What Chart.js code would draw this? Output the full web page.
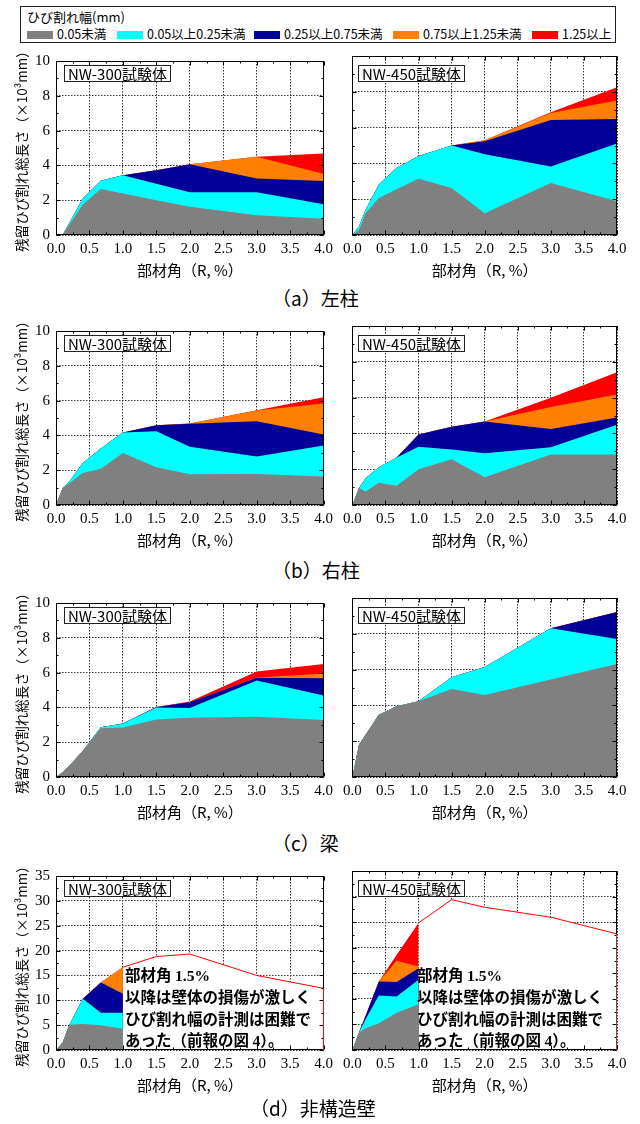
<!DOCTYPE html>
<html lang="ja">
<head>
<meta charset="utf-8">
<title>残留ひび割れ総長さ</title>
<script src="https://cdn.jsdelivr.net/npm/chart.js@4"></script>
<style>
  body { margin: 0; background: #fff; }
  #page { position: relative; width: 640px; height: 1124px; overflow: hidden; font-family: "Noto Sans CJK JP", sans-serif; color: #000; }
  canvas { position: absolute; }
  .legend { position: absolute; left: 20px; top: 6px; width: 594px; height: 35px; border: 1px solid #222; font-size: 12.5px; }
  .legend .ttl { position: absolute; left: 6px; top: 2px; line-height: 16px; font-size: 13px; }
  .legend .item { position: absolute; top: 19px; line-height: 16px; white-space: nowrap; }
  .legend .sw { display: inline-block; width: 26px; height: 8px; vertical-align: middle; margin-right: 4px; position: relative; top: -1px; }
  .spec { position: absolute; height: 15px; line-height: 15px; padding: 0 3px; border: 1.5px solid #222; background: #fff; font-size: 15px; white-space: nowrap; z-index: 2; }
  .cap { position: absolute; font-size: 19px; line-height: 24px; white-space: nowrap; }
  .note { position: absolute; font-size: 15.5px; line-height: 21.3px; font-weight: bold; white-space: nowrap; z-index: 2; }
  .serif { font-family: "Liberation Serif", serif; }
</style>
</head>
<body>
<div id="page"></div>
<script>
// 部材角 R (%) at each measured cycle
const rAngle = [0, 0.1, 0.2, 0.4, 0.67, 1.0, 1.5, 2.0, 3.0, 4.0];
const rAngleWall = [0, 0.1, 0.2, 0.4, 0.67, 1.0];
const rAngleWallTotal = [1.0, 1.5, 2.0, 3.0, 4.0];

// crack width classes (legend)
const crackClasses = ['0.05未満', '0.05以上0.25未満', '0.25以上0.75未満', '0.75以上1.25未満', '1.25以上'];
const classColors = ['#808080', '#00ffff', '#000099', '#ff8000', '#ff0000'];

// residual crack length per width class (x10^3 mm), one row per class
// (a) 左柱
const colLeft300 = [
  [0, 0, 0.6, 1.75, 2.65, 2.38, 2.0, 1.62, 1.13, 0.93],
  [0, 0, 0.1, 0.35, 0.47, 1.06, 0.95, 0.83, 1.32, 0.84],
  [0, 0, 0, 0, 0, 0, 0.77, 1.62, 0.80, 1.33],
  [0, 0, 0, 0, 0, 0, 0, 0, 1.25, 0.40],
  [0, 0, 0, 0, 0, 0, 0, 0, 0, 1.18]
];
const colLeft450 = [
  [0, 0.28, 1.22, 2.07, 2.55, 3.14, 2.63, 1.22, 2.91, 1.88],
  [0, 0.19, 0.19, 0.75, 1.21, 1.28, 2.37, 3.29, 0.91, 3.23],
  [0, 0, 0, 0, 0, 0, 0, 0.73, 2.61, 1.37],
  [0, 0, 0, 0, 0, 0, 0, 0.06, 0.39, 1.04],
  [0, 0, 0, 0, 0, 0, 0, 0, 0.04, 0.74]
];
// (b) 右柱
const colRight300 = [
  [0, 0.97, 1.25, 1.84, 2.08, 2.99, 2.17, 1.77, 1.78, 1.64],
  [0, 0, 0.1, 0.58, 1.17, 1.17, 2.07, 1.58, 1.01, 1.78],
  [0, 0, 0, 0, 0, 0, 0.35, 1.32, 2.02, 0.63],
  [0, 0, 0, 0, 0, 0, 0, 0.01, 0.62, 1.79],
  [0, 0, 0, 0, 0, 0, 0, 0, 0.02, 0.35]
];
const colRight450 = [
  [0, 0.95, 0.75, 1.25, 1.08, 2.0, 2.56, 1.55, 2.82, 2.82],
  [0, 0, 0.74, 0.86, 1.57, 1.26, 0.54, 1.34, 0.41, 1.66],
  [0, 0, 0, 0, 0, 0.68, 1.27, 1.77, 1.01, 0.41],
  [0, 0, 0, 0, 0, 0, 0, 0, 1.23, 1.29],
  [0, 0, 0, 0, 0, 0, 0, 0, 0.52, 1.23]
];
// (c) 梁
const beam300 = [
  [0, 0.28, 0.65, 1.5, 2.8, 2.84, 3.31, 3.4, 3.46, 3.27],
  [0, 0, 0, 0, 0.06, 0.24, 0.69, 0.56, 2.09, 1.42],
  [0, 0, 0, 0, 0, 0, 0.02, 0.34, 0.15, 0.99],
  [0, 0, 0, 0, 0, 0, 0, 0, 0.02, 0.26],
  [0, 0, 0, 0, 0, 0, 0, 0.04, 0.35, 0.56]
];
const beam450 = [
  [0, 1.8, 2.36, 3.48, 3.95, 4.23, 4.92, 4.58, 5.44, 6.31],
  [0, 0, 0, 0, 0, 0, 0.65, 1.57, 2.87, 1.4],
  [0, 0, 0, 0, 0, 0, 0, 0, 0, 1.51],
  [0, 0, 0, 0, 0, 0, 0, 0, 0, 0],
  [0, 0, 0, 0, 0, 0, 0, 0, 0, 0]
];
// (d) 非構造壁 (widths measured up to R=1.0%, total only afterwards)
const wall300 = [
  [0, 1.5, 5.1, 5.22, 4.96, 4.25],
  [0, 0, 0, 5.08, 2.55, 3.26],
  [0, 0, 0, 0, 6.09, 3.79],
  [0, 0, 0, 0, 0, 5.35],
  [0, 0, 0, 0, 0, 0]
];
const wall450 = [
  [0, 3.4, 4.25, 5.23, 7.3, 8.96],
  [0, 0, 1.75, 5.43, 3.16, 4.77],
  [0, 0, 0.7, 2.74, 2.82, 2.27],
  [0, 0, 0, 0, 4.18, 0.35],
  [0, 0, 0, 0, 1.14, 8.5]
];
const wall300Total = [16.65, 18.8, 19.3, 15.0, 12.4];
const wall450Total = [24.85, 29.4, 27.9, 25.96, 22.7];

const specNames = ['NW-300試験体', 'NW-450試験体'];
const captions = ['（a）左柱', '（b）右柱', '（c）梁', '（d）非構造壁'];

const page = document.getElementById('page');
const tickFont = { family: '"Liberation Serif", serif', size: 15 };

// frame around plot area, inward tick marks, closing edge of the total outline
const framePlugin = {
  id: 'frame',
  afterDatasetsDraw(chart, args, opts) {
    const { ctx, chartArea: a, scales: { x, y } } = chart;
    ctx.save();
    ctx.strokeStyle = '#000';
    ctx.lineWidth = 1;
    const L = Math.round(a.left) + 0.5, R = Math.round(a.right) - 0.5;
    const T = Math.round(a.top) + 0.5, B = Math.round(a.bottom) - 0.5;
    ctx.beginPath();
    for (let v = 0; v <= 4.0001; v += 0.25) {
      const px = Math.round(x.getPixelForValue(v)) + 0.5;
      const len = Math.abs(v * 2 - Math.round(v * 2)) < 1e-6 ? 4 : 2;
      ctx.moveTo(px, T); ctx.lineTo(px, T + len);
      ctx.moveTo(px, B); ctx.lineTo(px, B - len);
    }
    const half = opts.yStep / 2;
    for (let v = 0; v <= y.max + 1e-6; v += half) {
      const py = Math.round(y.getPixelForValue(v)) + 0.5;
      const len = Math.abs(v / opts.yStep - Math.round(v / opts.yStep)) < 1e-6 ? 4 : 2;
      ctx.moveTo(L, py); ctx.lineTo(L + len, py);
      ctx.moveTo(R, py); ctx.lineTo(R - len, py);
    }
    ctx.stroke();
    ctx.strokeRect(L, T, R - L, B - T);
    chart.data.datasets.forEach((ds, i) => {
      if (!ds.closeEdge) return;
      const pts = chart.getDatasetMeta(i).data;
      const last = pts[pts.length - 1];
      ctx.beginPath();
      ctx.strokeStyle = ds.closeEdge;
      ctx.moveTo(Math.round(last.x) - 0.5, last.y);
      ctx.lineTo(Math.round(last.x) - 0.5, y.getPixelForValue(0));
      ctx.stroke();
    });
    ctx.restore();
  }
};

const panels = [
  { layers: colLeft300, x: rAngle, top: 46, first: true, yMax: 10, yStep: 2 },
  { layers: colLeft450, x: rAngle, top: 46, first: false, yMax: 10, yStep: 2 },
  { layers: colRight300, x: rAngle, top: 316, first: true, yMax: 10, yStep: 2 },
  { layers: colRight450, x: rAngle, top: 316, first: false, yMax: 10, yStep: 2 },
  { layers: beam300, x: rAngle, top: 588, first: true, yMax: 10, yStep: 2 },
  { layers: beam450, x: rAngle, top: 588, first: false, yMax: 10, yStep: 2 },
  { layers: wall300, x: rAngleWall, total: wall300Total, edge: '#ff0000', top: 861, first: true, yMax: 35, yStep: 5 },
  { layers: wall450, x: rAngleWall, total: wall450Total, edge: '#a83030', top: 861, first: false, yMax: 35, yStep: 5 }
];

function makePanel(p) {
  const canvas = document.createElement('canvas');
  canvas.width = p.first ? 338 : 302;
  canvas.height = 234;
  canvas.style.left = (p.first ? 0 : 338) + 'px';
  canvas.style.top = p.top + 'px';
  page.appendChild(canvas);

  const datasets = p.layers.map((vals, i) => ({
    label: crackClasses[i],
    data: p.x.map((r, k) => ({ x: r, y: vals[k] })),
    backgroundColor: classColors[i],
    borderColor: 'rgba(0,0,0,0)',
    borderWidth: 0,
    pointRadius: 0,
    fill: 'origin',
    stack: 'cracks'
  }));
  if (p.total) {
    datasets.push({
      label: '合計',
      data: rAngleWallTotal.map((r, k) => ({ x: r, y: p.total[k] })),
      backgroundColor: '#ffffff',
      borderColor: '#ff0000',
      borderWidth: 1,
      pointRadius: 0,
      fill: 'origin',
      stack: 'total',
      closeEdge: p.edge
    });
  }

  const gridOpts = { color: '#333', drawTicks: false, lineWidth: 1 };
  new Chart(canvas, {
    type: 'line',
    data: { datasets },
    plugins: [framePlugin],
    options: {
      responsive: false,
      animation: false,
      devicePixelRatio: 1,
      elements: { line: { tension: 0 } },
      layout: { padding: { left: p.first ? 14 : 0, right: p.first ? 13 : 23, top: 10, bottom: 0 } },
      plugins: {
        legend: { display: false },
        tooltip: { enabled: false },
        frame: { yStep: p.yStep }
      },
      scales: {
        x: {
          type: 'linear', min: 0, max: 4,
          ticks: { stepSize: 0.5, autoSkip: false, maxRotation: 0, padding: 5, font: tickFont, color: '#000',
                   callback: v => v.toFixed(1) },
          grid: gridOpts,
          border: { display: false, dash: [1.5, 1.5] },
          title: { display: true, text: '部材角（R, %）', color: '#000',
                   font: { family: 'Noto Sans CJK JP', size: 15 }, padding: { top: 0, bottom: 1 } },
          afterFit: s => { s.height = 45; }
        },
        y: {
          stacked: true, min: 0, max: p.yMax,
          ticks: { stepSize: p.yStep, display: p.first, padding: 6, font: tickFont, color: '#000' },
          grid: gridOpts,
          border: { display: false, dash: [1.5, 1.5] },
          title: { display: p.first, text: '残留ひび割れ総長さ（×10³mm）', color: '#000',
                   font: { family: 'Noto Sans CJK JP', size: 13.5 }, padding: 0 },
          afterFit: s => { s.width = p.first ? 42 : 12; }
        }
      }
    }
  });

  // specimen label inside plot area
  const spec = document.createElement('div');
  spec.className = 'spec';
  spec.textContent = specNames[p.first ? 0 : 1];
  spec.style.left = (p.first ? 64 : 358) + 'px';
  spec.style.top = (p.top + 19) + 'px';
  page.appendChild(spec);

  if (p.total) {
    const note = document.createElement('div');
    note.className = 'note';
    note.style.left = (p.first ? 125 : 417) + 'px';
    note.style.top = '964px';
    note.innerHTML = '部材角 <span class="serif">1.5%</span><br>以降は壁体の損傷が激しく<br>ひび割れ幅の計測は困難で<br>あった（前報の図 <span class="serif">4</span>）。';
    page.appendChild(note);
  }
}

function makeLegend() {
  const box = document.createElement('div');
  box.className = 'legend';
  box.innerHTML = '<div class="ttl">ひび割れ幅(mm)</div>';
  const itemLeft = [6, 96, 233, 372, 511];
  crackClasses.forEach((name, i) => {
    const it = document.createElement('div');
    it.className = 'item';
    it.style.left = itemLeft[i] + 'px';
    it.innerHTML = '<span class="sw" style="background:' + classColors[i] + '"></span>' + name;
    box.appendChild(it);
  });
  page.appendChild(box);
}

function makeCaptions() {
  const capTop = [286, 558, 831, 1096];
  const capLeft = [272, 272, 272, 250];
  captions.forEach((c, i) => {
    const d = document.createElement('div');
    d.className = 'cap';
    d.textContent = c;
    d.style.left = capLeft[i] + 'px';
    d.style.top = capTop[i] + 'px';
    page.appendChild(d);
  });
}

makeLegend();
panels.forEach(makePanel);
makeCaptions();
</script>
</body>
</html>
